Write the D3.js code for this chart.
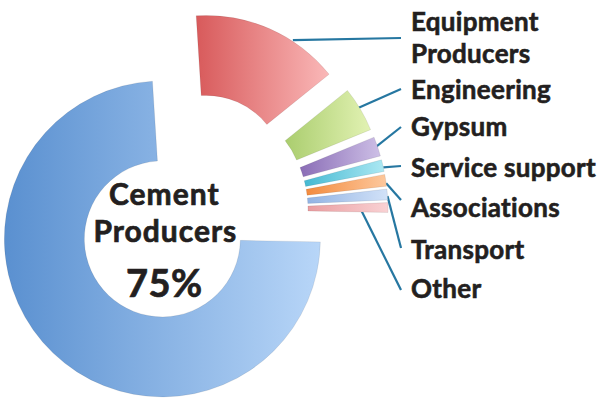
<!DOCTYPE html>
<html>
<head>
<meta charset="utf-8">
<script src="https://cdn.jsdelivr.net/npm/d3@7"></script>
<style>
  body { margin: 0; background: #fff; }
  svg { display: block; }
</style>
</head>
<body>
<div id="chart"></div>
<script>
// Data (shares in %), clockwise from the top
const categories = ['Equipment Producers', 'Engineering', 'Gypsum', 'Service support', 'Associations', 'Transport', 'Other', 'Cement Producers'];
const shares = [15.2, 4.6, 2.0, 1.2, 1.2, 1.1, 1.0, 73.7];
const centreText = ['Cement', 'Producers', '75%'];

// Gradient ends for each slice (dark left -> light right)
const darkColors = ['#d85a5b', '#aacd6e', '#8a6db6', '#45b9d2', '#f38b3e', '#92b3e3', '#ea9da0', '#5a90d0'];
const lightColors = ['#fab8b8', '#e2f2b3', '#cdbfe6', '#ace8f3', '#fdc89d', '#d2e2f8', '#f9d2d4', '#b8d6f8'];

const width = 600, height = 403;
const centre = { x: 190, y: 210 };
const innerR = 78, outerR = 158, pull = 40;
const startDeg = -3.6;

// label layout
const labelX = 411;
const labelBaselines = [[31, 63], [99], [136], [177], [217], [259], [298]];
const leaderEndY = [38, 89, 127, 166, 200, 248, 290];
const leaderFrac = [0.67, 0.45, 0.5, 0.65, 0.75, 0.65, 0.5];
const leaderR = [159, 156, 156, 158, 158, 158, 130];
const lineColor = '#2677a1';
const textColor = '#231f20';

const svg = d3.select('#chart')
  .append('svg')
    .attr('width', width)
    .attr('height', height);

const defs = svg.append('defs');
categories.forEach(function(c, i) {
  const g = defs.append('linearGradient')
    .attr('id', 'grad' + i)
    .attr('x1', 0).attr('y1', 0).attr('x2', 1).attr('y2', 0);
  g.append('stop').attr('offset', '0%').attr('stop-color', darkColors[i]);
  g.append('stop').attr('offset', '100%').attr('stop-color', lightColors[i]);
});

const start = startDeg * Math.PI / 180;
const pie = d3.pie()
  .sort(null)
  .value(function(d) { return d; })
  .startAngle(start)
  .endAngle(start + 2 * Math.PI);

const arcs = pie(shares);
const arc = d3.arc().innerRadius(innerR).outerRadius(outerR);

function offset(d) {
  const a = (d.startAngle + d.endAngle) / 2;
  return [centre.x + pull * Math.sin(a), centre.y - pull * Math.cos(a)];
}

// leader lines (drawn under the slices)
const leaders = svg.append('g');
arcs.slice(0, 7).forEach(function(d, i) {
  const o = offset(d);
  const a = d.startAngle + leaderFrac[i] * (d.endAngle - d.startAngle);
  leaders.append('line')
    .attr('x1', o[0] + leaderR[i] * Math.sin(a))
    .attr('y1', o[1] - leaderR[i] * Math.cos(a))
    .attr('x2', labelX - 10)
    .attr('y2', leaderEndY[i])
    .attr('stroke', lineColor)
    .attr('stroke-width', 2.2);
});

// slices
svg.append('g')
  .selectAll('path')
  .data(arcs)
  .enter()
  .append('path')
    .attr('transform', function(d) { const o = offset(d); return 'translate(' + o[0] + ',' + o[1] + ')'; })
    .attr('d', arc)
    .attr('fill', function(d, i) { return 'url(#grad' + i + ')'; })
    .attr('stroke', 'rgba(0,0,0,0.08)')
    .attr('stroke-width', 1);

// right labels
const labels = svg.append('g')
  .attr('font-family', 'Lato, sans-serif')
  .attr('font-weight', 700)
  .attr('font-size', 26)
  .attr('letter-spacing', 0.3)
  .attr('fill', textColor)
  .attr('stroke', textColor)
  .attr('stroke-width', 0.6);
categories.slice(0, 7).forEach(function(c, i) {
  const lines = i === 0 ? ['Equipment', 'Producers'] : [c];
  lines.forEach(function(t, j) {
    labels.append('text')
      .attr('x', labelX)
      .attr('y', labelBaselines[i][j])
      .text(t);
  });
});

// centre text
const blue = offset(arcs[7]);
const centreG = svg.append('g')
  .attr('font-family', 'Lato, sans-serif')
  .attr('font-weight', 700)
  .attr('fill', textColor)
  .attr('stroke', textColor)
  .attr('stroke-width', 0.7)
  .attr('text-anchor', 'middle');
centreG.append('text').attr('x', blue[0] + 2).attr('y', 205).attr('font-size', 30).attr('letter-spacing', 1).text(centreText[0]);
centreG.append('text').attr('x', blue[0] + 3).attr('y', 242).attr('font-size', 30).attr('letter-spacing', 1).text(centreText[1]);
centreG.append('text').attr('x', blue[0] + 2).attr('y', 297).attr('font-size', 38).attr('letter-spacing', 0.5).text(centreText[2]);
</script>
</body>
</html>
